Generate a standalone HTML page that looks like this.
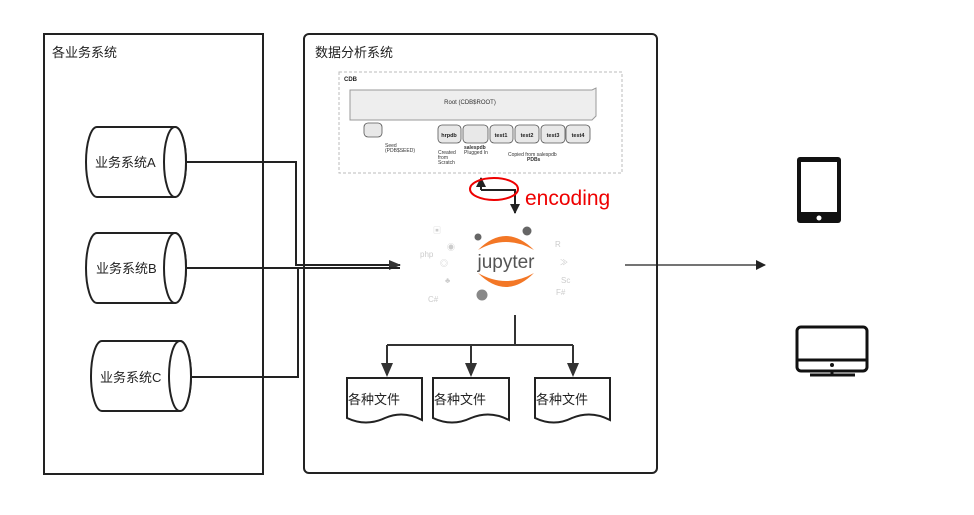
<!DOCTYPE html>
<html><head><meta charset="utf-8"><style>
html,body{margin:0;padding:0;background:#fff;}
svg{display:block;font-family:"Liberation Sans","Noto Sans CJK SC",sans-serif;}
</style></head><body>
<svg width="974" height="515" viewBox="0 0 974 515" xmlns="http://www.w3.org/2000/svg">
<defs>
<marker id="ar" markerWidth="10" markerHeight="10" refX="9" refY="5" orient="auto" markerUnits="userSpaceOnUse"><path d="M0,0 L10,5 L0,10 z" fill="#222"/></marker>
<marker id="ab" markerWidth="12" markerHeight="12" refX="11" refY="6" orient="auto" markerUnits="userSpaceOnUse"><path d="M0,1 L12,6 L0,11 z" fill="#333"/></marker>
</defs>
<!-- containers -->
<rect x="44" y="34" width="219" height="440" fill="none" stroke="#222" stroke-width="2"/>
<text x="52" y="57" font-size="13" fill="#222">各业务系统</text>
<rect x="304" y="34" width="353" height="439" rx="5" fill="none" stroke="#222" stroke-width="2"/>
<text x="315" y="57" font-size="13" fill="#222">数据分析系统</text>

<!-- cylinders -->
<g stroke="#222" stroke-width="2" fill="#fff">
<path d="M97,127 H175 A11,35 0 0 1 175,197 H97 A11,35 0 0 1 97,127 z"/>
<ellipse cx="175" cy="162" rx="11" ry="35"/>
<path d="M97,233 H175 A11,35 0 0 1 175,303 H97 A11,35 0 0 1 97,233 z"/>
<ellipse cx="175" cy="268" rx="11" ry="35"/>
<path d="M102,341 H180 A11,35 0 0 1 180,411 H102 A11,35 0 0 1 102,341 z"/>
<ellipse cx="180" cy="376" rx="11" ry="35"/>
</g>
<g font-size="13" fill="#222">
<text x="95" y="167">业务系统A</text>
<text x="96" y="273">业务系统B</text>
<text x="100" y="382">业务系统C</text>
</g>

<!-- connectors -->
<g stroke="#222" stroke-width="2" fill="none">
<path d="M186,162 H296 V265 H400" marker-end="url(#ab)"/>
<path d="M186,268 H400"/>
<path d="M191,377 H298 V267"/>
</g>

<!-- CDB box -->
<rect x="339" y="72" width="283" height="101" fill="none" stroke="#bbb" stroke-dasharray="3,2"/>
<text x="344" y="81" font-size="6" font-weight="bold" fill="#222">CDB</text>
<path d="M350,90 H592 L596,88 V116 L592,120 H350 z" fill="#eee" stroke="#999"/>
<text x="470" y="104" font-size="6" fill="#333" text-anchor="middle">Root (CDB$ROOT)</text>
<g stroke="#555" stroke-width="0.8" fill="#e8e8e8">
<rect x="364" y="123" width="18" height="14" rx="4"/>
<rect x="438" y="125" width="23" height="18" rx="4"/>
<rect x="463" y="125" width="25" height="18" rx="4"/>
<rect x="490" y="125" width="23" height="18" rx="4"/>
<rect x="515" y="125" width="24" height="18" rx="4"/>
<rect x="541" y="125" width="24" height="18" rx="4"/>
<rect x="566" y="125" width="24" height="18" rx="4"/>
</g>
<g font-size="5.5" font-weight="bold" fill="#222" text-anchor="middle">
<text x="449" y="137">hrpdb</text><text x="501" y="137">test1</text><text x="527" y="137">test2</text><text x="553" y="137">test3</text><text x="578" y="137">test4</text>
</g>
<g font-size="5" fill="#333">
<text x="385" y="147">Seed</text><text x="385" y="152">(PDB$SEED)</text>
<text x="438" y="154">Created</text><text x="438" y="159">from</text><text x="438" y="164">Scratch</text>
<text x="464" y="149" font-weight="bold">salespdb</text><text x="464" y="154">Plugged In</text>
<text x="508" y="156">Copied from salespdb</text><text x="527" y="161" font-weight="bold">PDBs</text>
</g>

<!-- encoding -->
<path d="M481,190 V178" stroke="#222" stroke-width="2" marker-end="url(#ar)"/>
<path d="M481,190 H515 V213" stroke="#222" stroke-width="2" fill="none" marker-end="url(#ar)"/>
<ellipse cx="494" cy="189" rx="24" ry="11" fill="none" stroke="#e00" stroke-width="2"/>
<text x="525" y="205" font-size="21" fill="#e00">encoding</text>

<!-- jupyter -->
<circle cx="478" cy="237" r="3.5" fill="#666"/>
<circle cx="527" cy="231" r="4.5" fill="#666"/>
<circle cx="482" cy="295" r="5.5" fill="#888"/>
<path d="M478,250 Q506,222 534,250 Q506,234 478,250 z" fill="#f37726"/>
<path d="M478,273 Q506,301 534,273 Q506,289 478,273 z" fill="#f37726"/>
<text x="506" y="268" font-size="19" fill="#555" text-anchor="middle">jupyter</text>
<g fill="#ccc" font-size="8">
<text x="433" y="233">▣</text><text x="447" y="250">◉</text><text x="440" y="266">◎</text><text x="445" y="283">♣</text>
<text x="428" y="302">C#</text><text x="420" y="257">php</text><text x="555" y="247">R</text><text x="560" y="265">≫</text><text x="556" y="295">F#</text><text x="561" y="283">Sc</text>
</g>
<path d="M625,265 H765" stroke="#222" stroke-width="1.2" marker-end="url(#ar)"/>

<!-- files -->
<g stroke="#333" stroke-width="2" fill="none">
<path d="M515,315 V345 M387,345 H573 M387,345 V375 M471,345 V375 M573,345 V375"/>
</g>
<g fill="#333"><path d="M381,363 L393,363 L387,377 z"/><path d="M465,363 L477,363 L471,377 z"/><path d="M567,363 L579,363 L573,377 z"/></g>
<g stroke="#222" stroke-width="2" fill="#fff">
<path d="M347,378 H422 V420 Q403,410 385,418 Q366,427 347,418 z"/>
<path d="M433,378 H509 V420 Q490,410 471,418 Q452,427 433,418 z"/>
<path d="M535,378 H610 V420 Q591,410 572,418 Q554,427 535,418 z"/>
</g>
<g font-size="13" fill="#222">
<text x="348" y="404">各种文件</text><text x="434" y="404">各种文件</text><text x="536" y="404">各种文件</text>
</g>

<!-- devices -->
<rect x="797" y="157" width="44" height="66" rx="3" fill="#111"/>
<rect x="801" y="162" width="36" height="50" fill="#fff"/>
<circle cx="819" cy="218" r="2.5" fill="#fff"/>
<rect x="797" y="327" width="70" height="44" rx="4" fill="none" stroke="#111" stroke-width="3"/>
<path d="M797,360 H867" stroke="#111" stroke-width="3"/>
<circle cx="832" cy="365" r="2" fill="#111"/>
<path d="M832,371 V375 M810,375 H855" stroke="#111" stroke-width="3"/>
</svg>
</body></html>
